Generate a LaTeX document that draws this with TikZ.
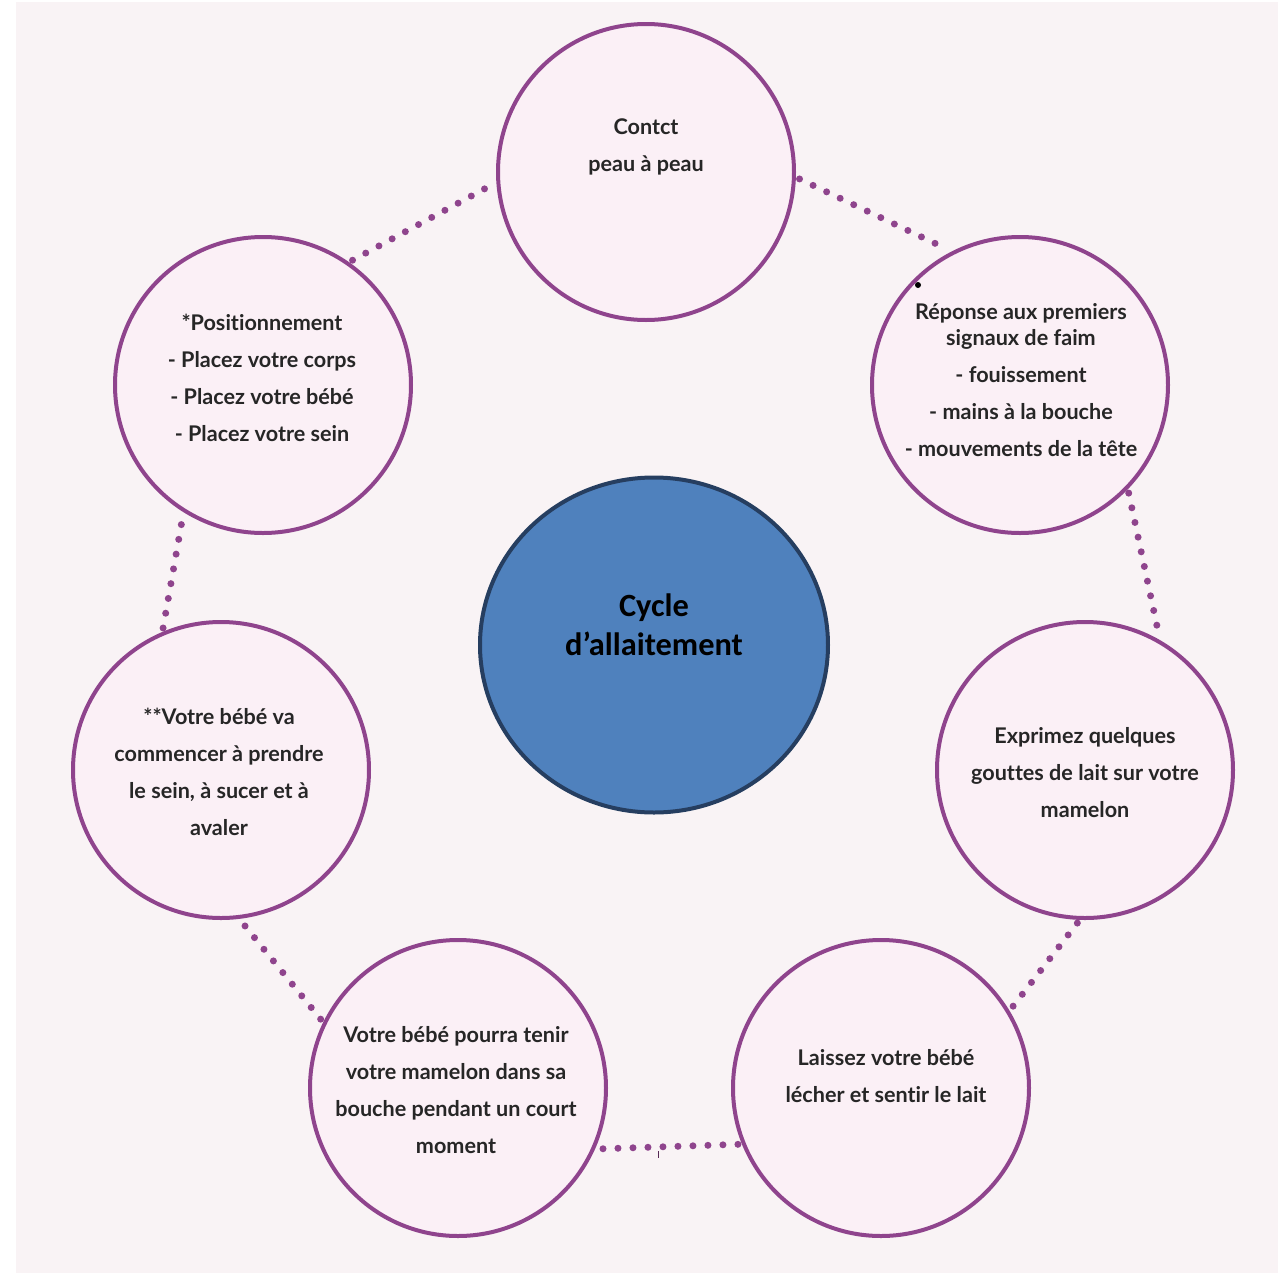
\documentclass[tikz,border=0pt]{standalone}
\usepackage{fontspec}
\setmainfont{Lato}[Ligatures={NoCommon}]
\newfontfamily\hubfont{Carlito}
\usetikzlibrary{shapes.geometric}
\definecolor{bgpink}{RGB}{249,243,245}
\definecolor{bubblefill}{RGB}{251,240,246}
\definecolor{plum}{RGB}{143,68,141}
\definecolor{hubblue}{RGB}{79,129,189}
\definecolor{hubnavy}{RGB}{38,62,96}
\definecolor{inkgray}{RGB}{38,38,38}
\tikzset{
  bubble/.style={circle,draw=plum,fill=bubblefill,line width=2pt,minimum size=148pt,inner sep=0pt},
  hub/.style={ellipse,draw=hubnavy,fill=hubblue,line width=2pt,minimum width=174pt,minimum height=167.5pt,inner sep=0pt},
  btext/.style={align=center,text=inkgray,font=\bfseries\fontsize{10.8}{18.5}\selectfont},
  dotlink/.style={plum,line width=3.5pt,line cap=round,dash pattern=on 0pt off 7.5pt,shorten >=2pt,shorten <=2pt},
}

\begin{document}
\begin{tikzpicture}[x=0.5pt,y=-0.5pt]
  \useasboundingbox[fill=white] (0,0) rectangle (1287,1275);
  \fill[bgpink] (16,2) rectangle (1278,1273);

  % CIRCLES
  \node[bubble] (contact)  at (646,172)  {};
  \node[bubble] (signals)  at (1020,385) {};
  \node[bubble] (express)  at (1085,770) {};
  \node[bubble] (lick)     at (881,1088) {};
  \node[bubble] (hold)     at (458,1088) {};
  \node[bubble] (suck)     at (221,770)  {};
  \node[bubble] (position) at (263,385)  {};
  \node[hub]    (cycle)    at (654,645)  {};

  % DOTTED LINKS
  \draw[dotlink] (contact.-2)   -- (signals.117);
  \draw[dotlink] (signals.-44)  -- (express.60);
  \draw[dotlink] (express.-92)  -- (lick.31);
  \draw[dotlink] (lick.-158)    -- (hold.-24);
  \draw[dotlink] (hold.154)     -- (suck.-83);
  \draw[dotlink] (suck.113)     -- (position.-122);
  \draw[dotlink] (position.55)  -- (contact.184);
  \draw[plum!60!black,line width=0.5pt] (658,1151) -- (658,1158);
  \fill ([shift={(-102,-100)}]signals) circle (1.5pt);

  % TEXTS
  \node[btext] at ([yshift=12.5pt]contact) {Contct\\peau à peau};
  \node[btext] at ([shift={(0.5pt,2.5pt)}]signals)
    {Réponse aux premiers\\[-5.5pt]signaux de faim\\- fouissement\\- mains à la bouche\\- mouvements de la tête};
  \node[btext] at ([yshift=-1.5pt]express)
    {Exprimez quelques\\gouttes de lait sur votre\\mamelon};
  \node[btext] at ([shift={(2.5pt,6pt)}]lick)
    {Laissez votre bébé\\lécher et sentir le lait};
  \node[btext] at ([shift={(-1pt,-1pt)}]hold)
    {Votre bébé pourra tenir\\votre mamelon dans sa\\bouche pendant un court\\moment};
  \node[btext] at ([shift={(-1pt,-1pt)}]suck)
    {**Votre bébé va\\commencer à prendre\\le sein, à sucer et à\\avaler};
  \node[btext] at ([shift={(-0.5pt,3.5pt)}]position)
    {*Positionnement\\- Placez votre corps\\- Placez votre bébé\\- Placez votre sein};
  \node[align=center,font=\hubfont\bfseries\fontsize{16.2}{19.5}\selectfont]
    at ([yshift=10pt]cycle) {Cycle\\d’allaitement};
\end{tikzpicture}
\end{document}
